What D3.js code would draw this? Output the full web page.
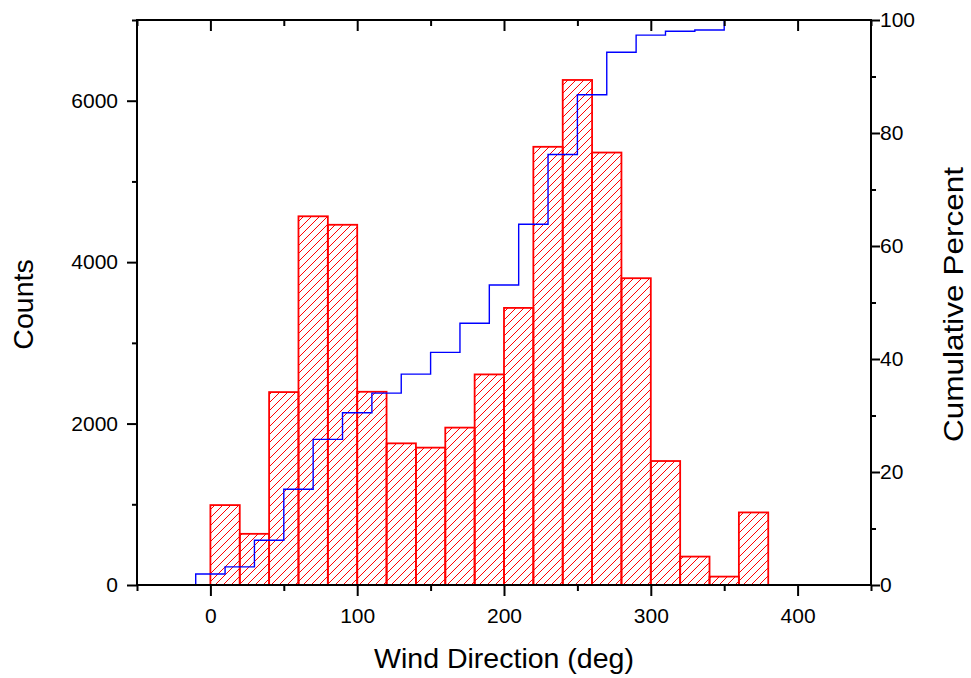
<!DOCTYPE html>
<html>
<head>
<meta charset="utf-8">
<script src="https://cdn.jsdelivr.net/npm/d3@7"></script>
<style>
  html, body { margin: 0; padding: 0; background: #fff; }
  svg { display: block; font-family: "Liberation Sans", Arial, sans-serif; }
</style>
</head>
<body>
<svg id="chart" width="971" height="678"></svg>
<script>
// ---- data ----
const binStarts = [0, 20, 40, 60, 80, 100, 120, 140, 160, 180, 200, 220, 240, 260, 280, 300, 320, 340, 360];
const binWidth = 20;
const counts = [990, 634, 2390, 4568, 4463, 2394, 1755, 1702, 1950, 2609, 3433, 5429, 6257, 5358, 3801, 1536, 352, 104, 899];
const cumPercent = [1.96, 3.21, 7.93, 16.95, 25.77, 30.50, 33.96, 37.33, 41.18, 46.33, 53.11, 63.84, 76.20, 86.78, 94.29, 97.32, 98.02, 98.22, 100];
const cumOffset = -10; // cumulative step line is drawn shifted half a bin left
const xMajorTicks = [0, 100, 200, 300, 400];
const xMinorTicks = [-50, 50, 150, 250, 350, 450];
const yLeftMajorTicks = [0, 2000, 4000, 6000];
const yLeftMinorTicks = [1000, 3000, 5000, 7000];
const yRightMajorTicks = [0, 20, 40, 60, 80, 100];
const yRightMinorTicks = [10, 30, 50, 70, 90];
const xTitle = "Wind Direction (deg)";
const yLeftTitle = "Counts";
const yRightTitle = "Cumulative Percent";

// ---- layout ----
const svg = d3.select("#chart");
const L = 137, R = 871, T = 20, B = 585;
const x = d3.scaleLinear().domain([-50, 450]).range([L, R]);
const yL = d3.scaleLinear().domain([0, 7000]).range([B, T]);
const yR = d3.scaleLinear().domain([0, 100]).range([B, T]);

const bars = binStarts.map((s, i) => ({ x0: s, x1: s + binWidth, v: counts[i] }));

// hatch lines ("/") inside each bar, derived from the bar's scaled rectangle
const HATCH = 8;
function hatchPath(d) {
  const X0 = x(d.x0), X1 = x(d.x1), Y0 = yL(d.v), Y1 = yL(0);
  let p = "";
  const cStart = Math.ceil((X0 + Y0) / HATCH) * HATCH;
  for (let c = cStart; c <= X1 + Y1; c += HATCH) {
    const lo = Math.max(X0, c - Y1), hi = Math.min(X1, c - Y0);
    if (hi - lo > 0.3) p += `M${lo},${c - lo}L${hi},${c - hi}`;
  }
  return p;
}
svg.append("g").selectAll("path").data(bars).join("path")
  .attr("d", hatchPath)
  .attr("fill", "none")
  .attr("stroke", "#ff0000")
  .attr("stroke-width", 1);

// bar outlines
svg.append("g").selectAll("rect").data(bars).join("rect")
  .attr("x", d => x(d.x0))
  .attr("y", d => yL(d.v))
  .attr("width", d => x(d.x1) - x(d.x0))
  .attr("height", d => yL(0) - yL(d.v))
  .attr("fill", "none")
  .attr("stroke", "#ff0000")
  .attr("stroke-width", 1.8);

// cumulative step line
const pts = [[binStarts[0] + cumOffset, 0]];
binStarts.forEach((s, i) => {
  pts.push([s + cumOffset, cumPercent[i]]);
  pts.push([s + binWidth + cumOffset, cumPercent[i]]);
});
svg.append("path")
  .attr("d", d3.line().x(d => x(d[0])).y(d => yR(d[1]))(pts))
  .attr("fill", "none")
  .attr("stroke", "#0000ff")
  .attr("stroke-width", 1.4);

// axes
function styleAxis(g) {
  g.select(".domain").remove();
  g.selectAll("line").attr("stroke", "#000").attr("stroke-width", 2);
  g.selectAll("text").attr("font-size", 21).attr("fill", "#000")
    .attr("font-family", "'Liberation Sans', Arial, sans-serif");
}
// bottom
svg.append("g").attr("transform", `translate(0,${B})`)
  .call(d3.axisBottom(x).tickValues(xMajorTicks).tickSize(11).tickPadding(12).tickFormat(d3.format("d")))
  .call(styleAxis);
svg.append("g").attr("transform", `translate(0,${B})`)
  .call(d3.axisBottom(x).tickValues(xMinorTicks).tickSize(6).tickFormat(""))
  .call(styleAxis);
// top (inward)
svg.append("g").attr("transform", `translate(0,${T})`)
  .call(d3.axisTop(x).tickValues(xMajorTicks).tickSize(-11).tickFormat(""))
  .call(styleAxis);
svg.append("g").attr("transform", `translate(0,${T})`)
  .call(d3.axisTop(x).tickValues(xMinorTicks).tickSize(-6).tickFormat(""))
  .call(styleAxis);
// left
svg.append("g").attr("transform", `translate(${L},0)`)
  .call(d3.axisLeft(yL).tickValues(yLeftMajorTicks).tickSize(10).tickPadding(9).tickFormat(d3.format("d")))
  .call(styleAxis);
svg.append("g").attr("transform", `translate(${L},0)`)
  .call(d3.axisLeft(yL).tickValues(yLeftMinorTicks).tickSize(5).tickFormat(""))
  .call(styleAxis);
// right
svg.append("g").attr("transform", `translate(${R},0)`)
  .call(d3.axisRight(yR).tickValues(yRightMajorTicks).tickSize(9).tickPadding(0).tickFormat(d3.format("d")))
  .call(styleAxis);
svg.append("g").attr("transform", `translate(${R},0)`)
  .call(d3.axisRight(yR).tickValues(yRightMinorTicks).tickSize(5).tickFormat(""))
  .call(styleAxis);

// frame
svg.append("rect")
  .attr("x", L).attr("y", T).attr("width", R - L).attr("height", B - T)
  .attr("fill", "none").attr("stroke", "#000").attr("stroke-width", 2);

// titles
svg.append("text")
  .attr("x", (L + R) / 2).attr("y", 668)
  .attr("text-anchor", "middle").attr("font-size", 28.5).attr("fill", "#000")
  .text(xTitle);
svg.append("text")
  .attr("transform", `translate(33,${(T + B) / 2 + 2}) rotate(-90)`)
  .attr("text-anchor", "middle").attr("font-size", 28.5).attr("fill", "#000")
  .text(yLeftTitle);
svg.append("text")
  .attr("transform", `translate(963,${(T + B) / 2 + 2}) rotate(-90)`)
  .attr("text-anchor", "middle").attr("font-size", 28.5).attr("fill", "#000")
  .attr("textLength", 275).attr("lengthAdjust", "spacingAndGlyphs")
  .text(yRightTitle);
</script>
</body>
</html>
